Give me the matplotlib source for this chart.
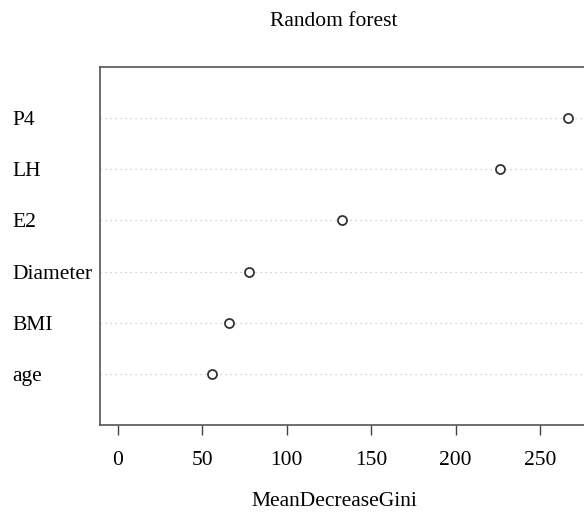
import matplotlib
matplotlib.use("Agg")
import matplotlib.pyplot as plt

# variable importance, bottom to top as drawn
variables = ["age", "BMI", "Diameter", "E2", "LH", "P4"]
gini = [55.4, 65.7, 77.7, 132.9, 226.6, 266.6]
xticks = [0, 50, 100, 150, 200, 250]

plt.rcParams["font.family"] = ["Liberation Serif", "DejaVu Serif"]

W, H = 584, 515
fig = plt.figure(figsize=(W / 100, H / 100), dpi=100)
ax = fig.add_axes([100 / W, (H - 425) / H, (586 - 100) / W, (425 - 67) / H])

ypos = list(range(1, len(variables) + 1))
for y in ypos:
    ax.axhline(y, color="#c4c4c4", linestyle=(0, (1, 3)), linewidth=0.9, zorder=1)
ax.plot(gini, ypos, linestyle="none", marker="o", markersize=6.5,
        markerfacecolor="white", markeredgecolor="#333333", markeredgewidth=1.3, zorder=3)

xmax = max(gini)
ext = 0.04 * xmax
ax.set_xlim(0 - ext, xmax + ext)
ax.set_ylim(0, len(variables) + 1)

ax.set_xticks(xticks)
ax.set_xticklabels([str(t) for t in xticks], fontsize=15.5)
ax.tick_params(axis="x", direction="out", length=7, width=1, color="#444444", pad=12)

ax.set_yticks(ypos)
ax.set_yticklabels(variables, fontsize=15.5, ha="left")
ax.tick_params(axis="y", length=0, pad=63)

for s in ax.spines.values():
    s.set_color("#555555")
    s.set_linewidth(1.2)

fig.text(334 / W, 1 - 21 / H, "Random forest", ha="center", va="center", fontsize=15.5)
fig.text(334 / W, 1 - 502 / H, "MeanDecreaseGini", ha="center", va="center", fontsize=15.5)

fig.savefig("out.png", dpi=100, facecolor="white")
